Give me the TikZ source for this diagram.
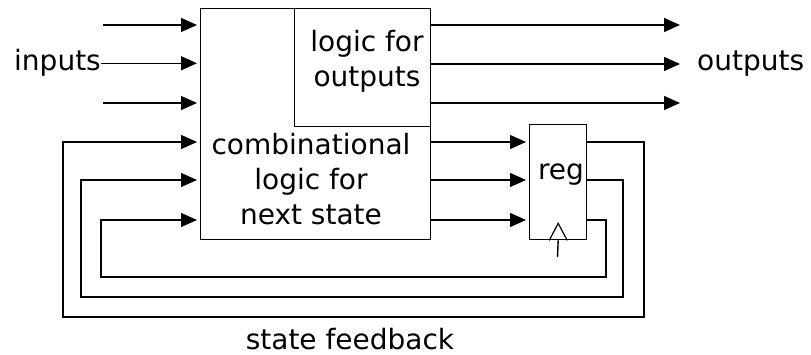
\documentclass[tikz,border=0pt]{standalone}
\usepackage{fontspec}
\setmainfont{DejaVu Sans}
\usetikzlibrary{arrows.meta}

\begin{document}
\begin{tikzpicture}[x=1pt,y=-1pt,
  box/.style={draw,line width=1.4pt,inner sep=0pt,anchor=north west},
  wire/.style={line width=1.4pt},
  arr/.style={wire,-{Triangle[length=16pt,width=14pt]},shorten >=3pt},
  lbl/.style={font=\fontsize{28}{35}\selectfont,align=center,inner sep=0pt}]

  \useasboundingbox (0,0) rectangle (811,355);

  \node[box,minimum width=230pt,minimum height=231pt] (comb) at (200,8) {};
  \node[box,minimum width=136pt,minimum height=118pt] (outlogic) at (294,8) {};
  \node[box,minimum width=57pt,minimum height=115pt] (reg) at (529,124) {};

  \node[lbl] (combtxt) at (311,179) {combinational\\logic for\\next state};
  \node[lbl] (outtxt) at (367,61) {logic for\\outputs};
  \node[lbl,anchor=base] (regtxt) at (561,180) {reg};
  \node[lbl,anchor=base east] (inputs) at (101,71) {inputs};
  \node[lbl,anchor=base west] (outputs) at (697,71) {outputs};
  \node[lbl,anchor=base] (fbtxt) at (350,349) {state feedback};

  % inputs and outputs
  \coordinate (in1) at (103,25);
  \coordinate (in3) at (103,103);
  \draw[arr] (in1) -- (in1 -| comb.west);
  \draw[arr] (inputs.east) -- (inputs.east -| comb.west);
  \draw[arr] (in3) -- (in3 -| comb.west);

  \foreach \y/\n in {25/1,64/2,103/3}
    \coordinate (out\n) at (683,\y);
  \foreach \n in {1,2,3}
    \draw[arr] (out\n -| outlogic.east) -- (out\n);

  % next state into reg
  \foreach \y/\n in {142/1,180/2,220/3}
    \coordinate (st\n) at (0,\y);
  \foreach \n in {1,2,3}
    \draw[arr] (st\n -| comb.east) -- (st\n -| reg.west);

  % state feedback
  \coordinate (fbR1) at (644,317); \coordinate (fbL1) at (63,317);
  \coordinate (fbR2) at (623,297); \coordinate (fbL2) at (81,297);
  \coordinate (fbR3) at (606,277); \coordinate (fbL3) at (101,277);
  \foreach \n in {1,2,3}
    \draw[arr] (st\n -| reg.east) -| (fbR\n) -- (fbL\n) |- (st\n -| comb.west);

  % clock
  \coordinate (clk) at (557.5,257);
  \draw[wire] (clk) -- (reg.south);
  \draw[line width=1.2pt] ([xshift=-9pt]reg.south) -- ([yshift=17pt]reg.south) -- ([xshift=9pt]reg.south);

\end{tikzpicture}
\end{document}
